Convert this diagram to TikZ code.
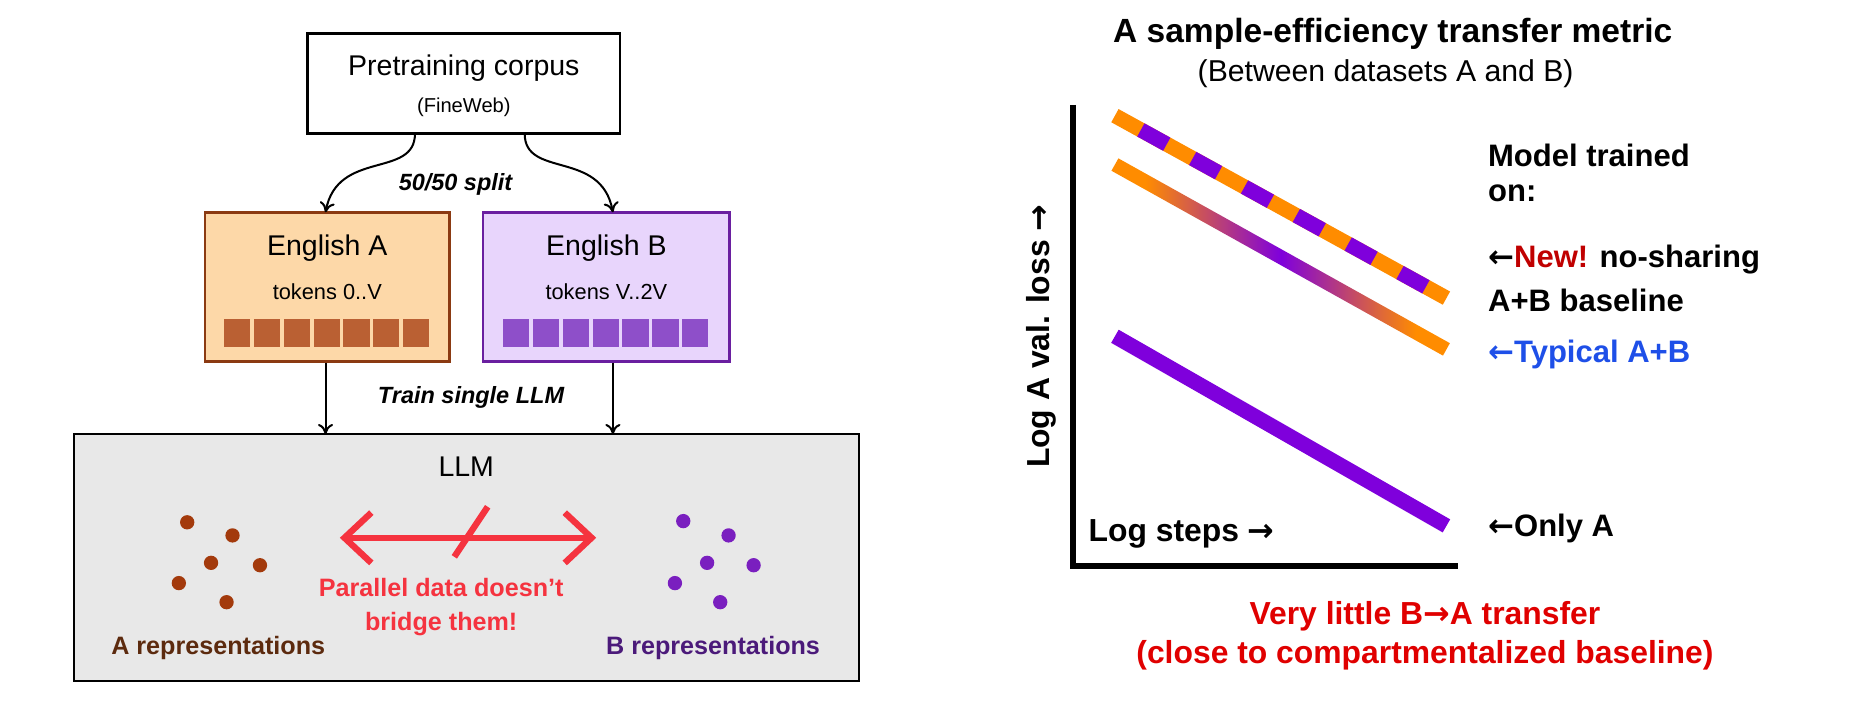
\documentclass[tikz,border=0pt]{standalone}
\usepackage{fontspec}
\setmainfont{Liberation Sans}
\newfontfamily\arrfont{DejaVu Sans}
\usetikzlibrary{arrows.meta, calc}
\definecolor{boxA}{HTML}{FDD8A8}
\definecolor{edgeA}{HTML}{8B3A12}
\definecolor{tokA}{HTML}{BA6033}
\definecolor{boxB}{HTML}{E8D5FC}
\definecolor{edgeB}{HTML}{6A1FA0}
\definecolor{tokB}{HTML}{8E4FC9}
\definecolor{dotA}{HTML}{A33A0C}
\definecolor{dotB}{HTML}{7A1FBF}
\definecolor{txtA}{HTML}{5C2A0E}
\definecolor{txtB}{HTML}{4B1A7A}
\definecolor{warn}{HTML}{F5333F}
\definecolor{lineO}{HTML}{FF8C00}
\definecolor{lineP}{HTML}{7F00DC}
\definecolor{typ}{HTML}{1E4FE8}
\definecolor{deep}{HTML}{E00000}
\definecolor{newred}{HTML}{C00000}
\definecolor{llmgray}{HTML}{E8E8E8}
\pgfdeclarehorizontalshading{mixline}{100bp}{color(0bp)=(lineO); color(30bp)=(lineO); color(50bp)=(lineP); color(70bp)=(lineO); color(100bp)=(lineO)}
\tikzset{
  box/.style = {rectangle, draw=black, line width=1.6pt, inner sep=0pt},
  tok/.style = {rectangle, minimum width=0.55cm, minimum height=0.58cm, inner sep=0pt},
  dot/.style = {circle, minimum size=0.3cm, inner sep=0pt},
  arrow/.style = {line width=1.2pt, -{To[length=6pt,width=9pt]}},
  curve/.style = {line width=9pt, line cap=butt},
  rlabel/.style = {anchor=west, font=\fontsize{18.5}{20}\selectfont\bfseries},
}
\begin{document}
\begin{tikzpicture}[x=0.025cm, y=-0.025cm]
\useasboundingbox (0,0) rectangle (1559,595);

% left: data split
\node (pre) [box, minimum width=6.55cm, minimum height=2.1cm] at (389,70) {};
\node (pret) at (389,57) {\fontsize{17}{20}\selectfont Pretraining corpus};
\node (fw) at (389,90) {\fontsize{12}{14}\selectfont (FineWeb)};

\node (engA) [box, draw=edgeA, fill=boxA, minimum width=5.125cm, minimum height=3.125cm] at (274.5,240.5) {};
\node (engB) [box, draw=edgeB, fill=boxB, minimum width=5.175cm, minimum height=3.125cm] at (508.5,240.5) {};
\node (engAt) at (274.5,208) {\fontsize{17}{20}\selectfont English A};
\node (engBt) at (508.5,208) {\fontsize{17}{20}\selectfont English B};
\node (tokAt) at (274.5,245) {\fontsize{13}{15}\selectfont tokens 0..V};
\node (tokBt) at (508.5,245) {\fontsize{13}{15}\selectfont tokens V..2V};
\foreach \i in {0,...,6} {
  \node (ta\i) [tok, fill=tokA] at ({199+25*\i},279) {};
  \node (tb\i) [tok, fill=tokB] at ({433+25*\i},279) {};
}

\coordinate (sA) at (348,112);
\coordinate (sB) at (440,112);
\coordinate (eA) at (273,178);
\coordinate (eB) at (514,178);
\draw [arrow] (sA) .. controls (348,150) and (283,125) .. (eA);
\draw [arrow] (sB) .. controls (440,150) and (504,125) .. (eB);
\node (split) at (382,155) {\fontsize{14}{16}\selectfont\bfseries\itshape 50/50 split};

\node (llm) [box, fill=llmgray, line width=1.2pt, minimum width=16.45cm, minimum height=5.175cm] at (391,467.5) {};
\coordinate (dA) at (273,364);
\coordinate (dB) at (514,364);
\draw [arrow] (engA.south -| dA) -- (dA);
\draw [arrow] (engB.south -| dB) -- (dB);
\node (train) at (395,333) {\fontsize{14}{16}\selectfont\bfseries\itshape Train single LLM};
\node (llmt) at (391,391) {\fontsize{17}{20}\selectfont LLM};

% representations
\foreach \x/\y [count=\k] in {157/438, 195/449, 177/472, 218/474, 150/489, 190/505} {
  \node (pa\k) [dot, fill=dotA] at (\x,\y) {};
}
\foreach \x/\y [count=\k] in {573/437, 611/449, 593/472, 632/474, 566/489, 604/505} {
  \node (pb\k) [dot, fill=dotB] at (\x,\y) {};
}
\coordinate (wl) at (285,451);
\coordinate (wr) at (500,451);
\draw [warn, line width=3.8pt, {Straight Barb[length=16pt,width=30pt]}-{Straight Barb[length=16pt,width=30pt]}] (wl) -- (wr);
\coordinate (c1) at (381,467);
\coordinate (c2) at (409,425);
\draw [warn, line width=3.8pt] (c1) -- (c2);
\node (par) [text=warn, align=center, font=\fontsize{15}{20}\selectfont\bfseries] at (370,509) {Parallel data doesn’t\\bridge them!};
\node (repA) [text=txtA, font=\fontsize{15}{18}\selectfont\bfseries] at (183,543) {A representations};
\node (repB) [text=txtB, font=\fontsize{15}{18}\selectfont\bfseries] at (598,543) {B representations};

% right: metric plot
\node (title) at (1168,28) {\fontsize{20}{22}\selectfont\bfseries A sample-efficiency transfer metric};
\node (sub) at (1162,62) {\fontsize{18}{20}\selectfont (Between datasets A and B)};
\coordinate (top) at (900,88);
\coordinate (org) at (900,475);
\coordinate (rgt) at (1223,475);
\draw [line width=3.6pt] (top) -- (org) -- (rgt);
\node (ylab) [rotate=90, font=\fontsize{19}{21}\selectfont\bfseries] at (873,282) {Log A val. loss {\arrfont →}};
\node (xlab) [anchor=west, font=\fontsize{19}{21}\selectfont\bfseries] at (908,448) {Log steps {\arrfont →}};

\coordinate (d1) at (935,97);
\coordinate (d2) at (1213,250);
\draw [curve, draw=lineO] (d1) -- (d2);
\draw [curve, draw=lineP, dash pattern=on 0.62cm off 0.62cm, dash phase=-0.62cm] (d1) -- (d2);
\shade [shading=mixline]
  (932.1,143.2) -- (937.9,132.8) -- (1215.9,287.8) -- (1210.1,298.2) -- cycle;
\coordinate (o1) at (935,282);
\coordinate (o2) at (1213,441);
\draw [curve, draw=lineP] (o1) -- (o2);

\node (mt) [rlabel] at (1243,130) {Model trained};
\node (on) [rlabel] at (1243,162) {on:};
\node (new) [rlabel] at (1243,218) {{\arrfont ←}\textcolor{newred}{New!} no-sharing};
\node (ab) [rlabel] at (1243,252) {A+B baseline};
\node (typ) [rlabel, text=typ] at (1243,297) {{\arrfont ←}Typical A+B};
\node (only) [rlabel] at (1243,443) {{\arrfont ←}Only A};

\node (conc) [text=deep, align=center, font=\fontsize{19}{23}\selectfont\bfseries] at (1195,533) {Very little B{\arrfont →}A transfer\\(close to compartmentalized baseline)};
\end{tikzpicture}
\end{document}
